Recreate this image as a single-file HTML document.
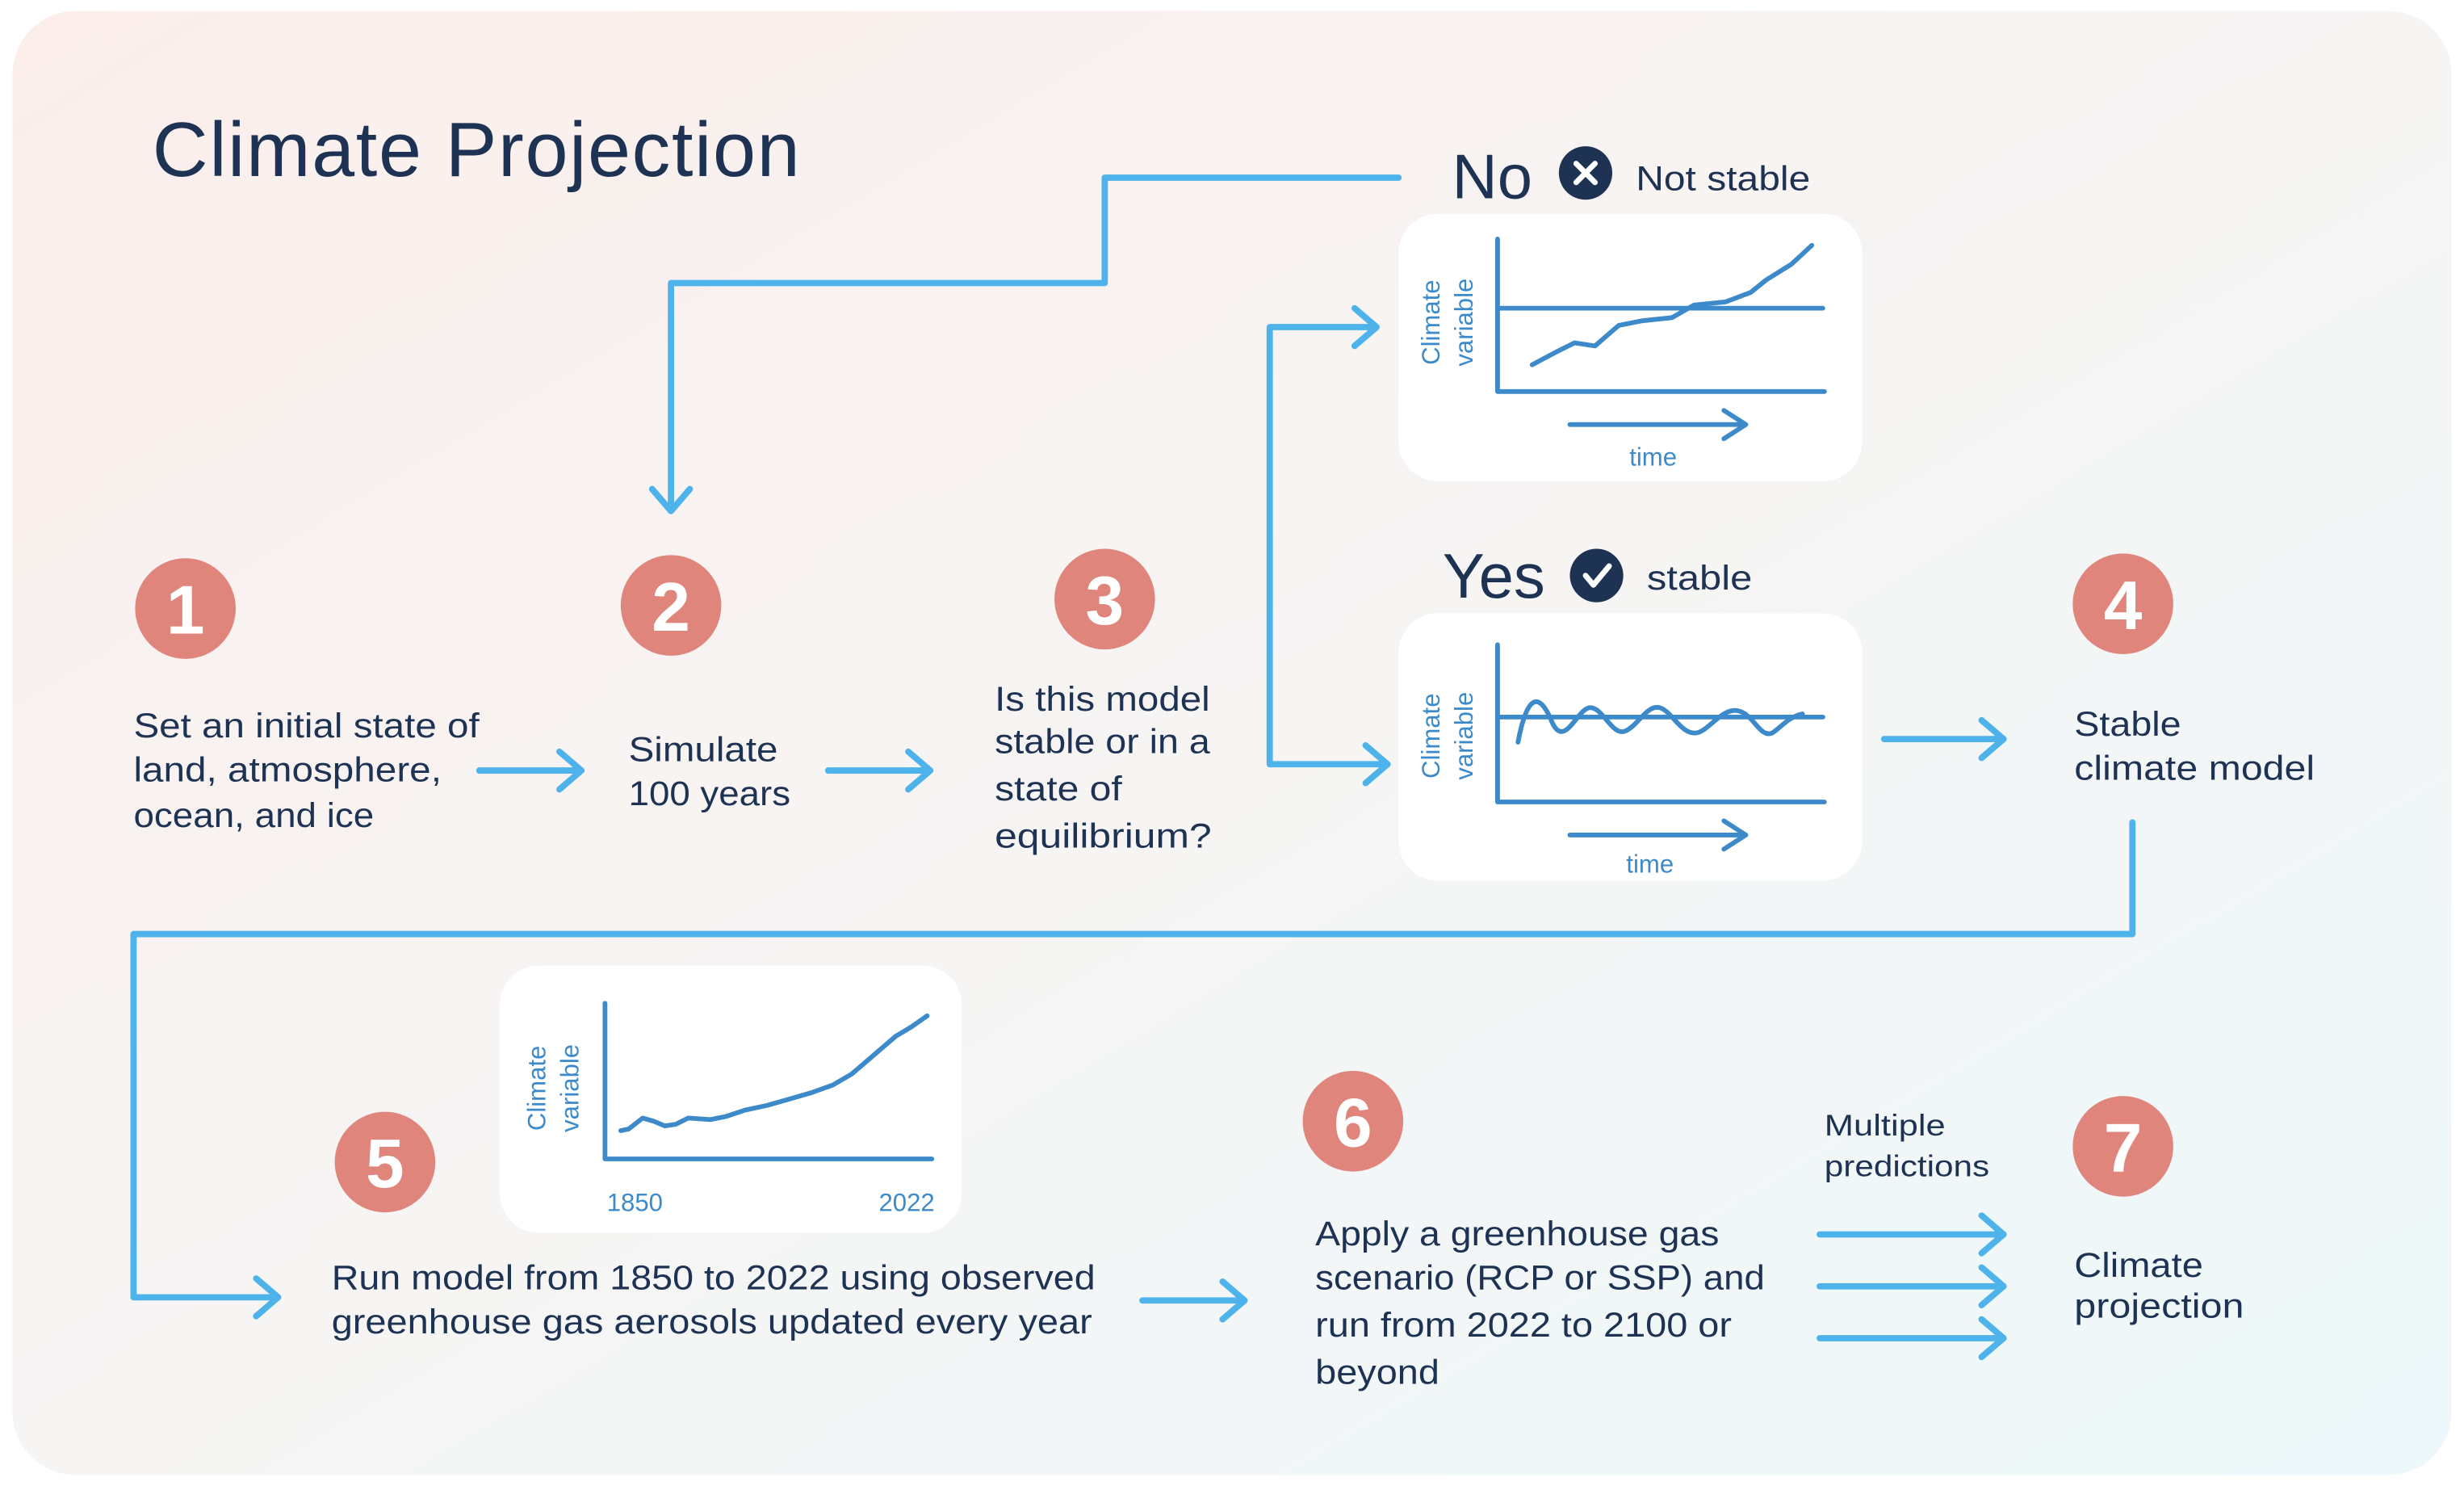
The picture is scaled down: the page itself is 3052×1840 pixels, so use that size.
<!DOCTYPE html>
<html><head><meta charset="utf-8"><style>
html,body{margin:0;padding:0;background:#fff;}
svg{display:block;}
text{font-family:"Liberation Sans",sans-serif;}
</style></head><body>
<svg width="3052" height="1840" viewBox="0 0 1568 945" preserveAspectRatio="none" xmlns="http://www.w3.org/2000/svg">
<defs>
<linearGradient id="bg" x1="0" y1="0" x2="1" y2="1">
<stop offset="0" stop-color="#fbeeeb"/><stop offset="0.5" stop-color="#f6f5f4"/><stop offset="1" stop-color="#edf8fa"/>
</linearGradient>
</defs>
<rect x="0" y="0" width="1568" height="945" fill="#fff"/>
<rect x="8" y="7" width="1552" height="931" rx="40" fill="url(#bg)"/>
<text x="97" y="112" font-size="49" fill="#1e3354" textLength="412">Climate Projection</text>

<g fill="none" stroke="#4db3ea" stroke-width="4" stroke-linecap="round" stroke-linejoin="round">
<path d="M305 490H370M356 478L370 490L356 502"/>
<path d="M527 490H592M578 478L592 490L578 502"/>
<path d="M890 113H703V180H427V325M415 311L427 325L439 311"/>
<path d="M876 208H808V486H883M862 196L876 208L862 220M869 474L883 486L869 498"/>
<path d="M1199 470H1275M1261 458L1275 470L1261 482"/>
<path d="M1357 523V594H85V825H177M163 813L177 825L163 837"/>
<path d="M727 827H792M778 815L792 827L778 839"/>
<path d="M1158 785H1275M1261 773L1275 785L1261 797"/>
<path d="M1158 818H1275M1261 806L1275 818L1261 830"/>
<path d="M1158 851H1275M1261 839L1275 851L1261 863"/>
</g>

<g fill="#e0857c">
<circle cx="118" cy="387" r="32"/><circle cx="427" cy="385" r="32"/><circle cx="703" cy="381" r="32"/>
<circle cx="1351" cy="384" r="32"/><circle cx="245" cy="739" r="32"/><circle cx="861" cy="713" r="32"/><circle cx="1351" cy="729" r="32"/>
</g>
<g fill="#fff" font-size="44" font-weight="bold" text-anchor="middle">
<text x="118" y="403">1</text><text x="427" y="401">2</text><text x="703" y="397">3</text>
<text x="1351" y="400">4</text><text x="245" y="755">5</text><text x="861" y="729">6</text><text x="1351" y="745">7</text>
</g>

<g fill="#1e3354" font-size="22" lengthAdjust="spacingAndGlyphs">
<text x="85" y="469" textLength="220" lengthAdjust="spacingAndGlyphs">Set an initial state of</text><text x="85" y="497" textLength="196" lengthAdjust="spacingAndGlyphs">land, atmosphere,</text><text x="85" y="526" textLength="153" lengthAdjust="spacingAndGlyphs">ocean, and ice</text>
<text x="400" y="484" textLength="95" lengthAdjust="spacingAndGlyphs">Simulate</text><text x="400" y="512" textLength="103" lengthAdjust="spacingAndGlyphs">100 years</text>
<text x="633" y="452" textLength="137" lengthAdjust="spacingAndGlyphs">Is this model</text><text x="633" y="479" textLength="137" lengthAdjust="spacingAndGlyphs">stable or in a</text><text x="633" y="509" textLength="81" lengthAdjust="spacingAndGlyphs">state of</text><text x="633" y="539" textLength="138" lengthAdjust="spacingAndGlyphs">equilibrium?</text>
<text x="1320" y="468" textLength="68" lengthAdjust="spacingAndGlyphs">Stable</text><text x="1320" y="496" textLength="153" lengthAdjust="spacingAndGlyphs">climate model</text>
<text x="211" y="820" textLength="486" lengthAdjust="spacingAndGlyphs">Run model from 1850 to 2022 using observed</text><text x="211" y="848" textLength="484" lengthAdjust="spacingAndGlyphs">greenhouse gas aerosols updated every year</text>
<text x="837" y="792" textLength="257" lengthAdjust="spacingAndGlyphs">Apply a greenhouse gas</text><text x="837" y="820" textLength="286" lengthAdjust="spacingAndGlyphs">scenario (RCP or SSP) and</text><text x="837" y="850" textLength="265" lengthAdjust="spacingAndGlyphs">run from 2022 to 2100 or</text><text x="837" y="880" textLength="79" lengthAdjust="spacingAndGlyphs">beyond</text>
<text x="1161" y="722" font-size="19" textLength="77" lengthAdjust="spacingAndGlyphs">Multiple</text><text x="1161" y="748" font-size="19" textLength="105" lengthAdjust="spacingAndGlyphs">predictions</text>
<text x="1320" y="812" textLength="82" lengthAdjust="spacingAndGlyphs">Climate</text><text x="1320" y="838" textLength="108" lengthAdjust="spacingAndGlyphs">projection</text>
<text x="924" y="126" font-size="40">No</text><text x="1041" y="121" textLength="111" lengthAdjust="spacingAndGlyphs">Not stable</text>
<text x="918" y="380" font-size="40">Yes</text><text x="1048" y="375" textLength="67" lengthAdjust="spacingAndGlyphs">stable</text>
</g>
<circle cx="1009" cy="110" r="17" fill="#1e3354"/>
<path d="M1003 104L1015 116M1015 104L1003 116" stroke="#fff" stroke-width="3.5" stroke-linecap="round"/>
<circle cx="1016" cy="366" r="17" fill="#1e3354"/>
<path d="M1009 366L1014 372L1024 360" stroke="#fff" stroke-width="3.5" fill="none" stroke-linecap="round" stroke-linejoin="round"/>

<rect x="890" y="136" width="295" height="170" rx="25" fill="#fff"/>
<rect x="890" y="390" width="295" height="170" rx="25" fill="#fff"/>
<rect x="318" y="614" width="294" height="170" rx="25" fill="#fff"/>

<g fill="none" stroke="#3d8acb" stroke-width="3" stroke-linecap="round" stroke-linejoin="round">
<path d="M953 152V249H1161M953 196H1160"/>
<path d="M975 232L990 224L1002 218L1015 220L1030 207L1045 204L1064 202L1078 194L1098 192L1114 186L1124 178L1140 168L1153 156"/>
<path d="M999 270H1111M1097 261L1111 270L1097 279"/>
<path d="M953 410V510H1161M953 456H1160"/>
<path d="M966 472C972 440 980 440 988 460C996 476 1004 450 1012 450C1020 450 1026 468 1034 465C1042 462 1048 448 1056 450C1064 452 1070 468 1080 466C1088 464 1096 450 1106 452C1116 454 1120 470 1128 466C1134 462 1138 456 1147 454"/>
<path d="M999 531H1111M1097 522L1111 531L1097 540"/>
<path d="M385 638V737H593"/>
<path d="M395 719L400 718L409 711L416 713L423 716L430 715L438 711L452 712L462 710L474 706L488 703L502 699L516 695L530 690L542 683L556 671L570 659L580 653L590 646"/>
</g>
<g fill="#3d8acb" font-size="16">
<text x="1052" y="296" text-anchor="middle">time</text>
<text x="1050" y="555" text-anchor="middle">time</text>
<text x="404" y="770" text-anchor="middle">1850</text>
<text x="577" y="770" text-anchor="middle">2022</text>
<text transform="translate(916,205) rotate(-90)" text-anchor="middle">Climate</text>
<text transform="translate(937,205) rotate(-90)" text-anchor="middle">variable</text>
<text transform="translate(916,468) rotate(-90)" text-anchor="middle">Climate</text>
<text transform="translate(937,468) rotate(-90)" text-anchor="middle">variable</text>
<text transform="translate(347,692) rotate(-90)" text-anchor="middle">Climate</text>
<text transform="translate(368,692) rotate(-90)" text-anchor="middle">variable</text>
</g>
</svg>
</body></html>
